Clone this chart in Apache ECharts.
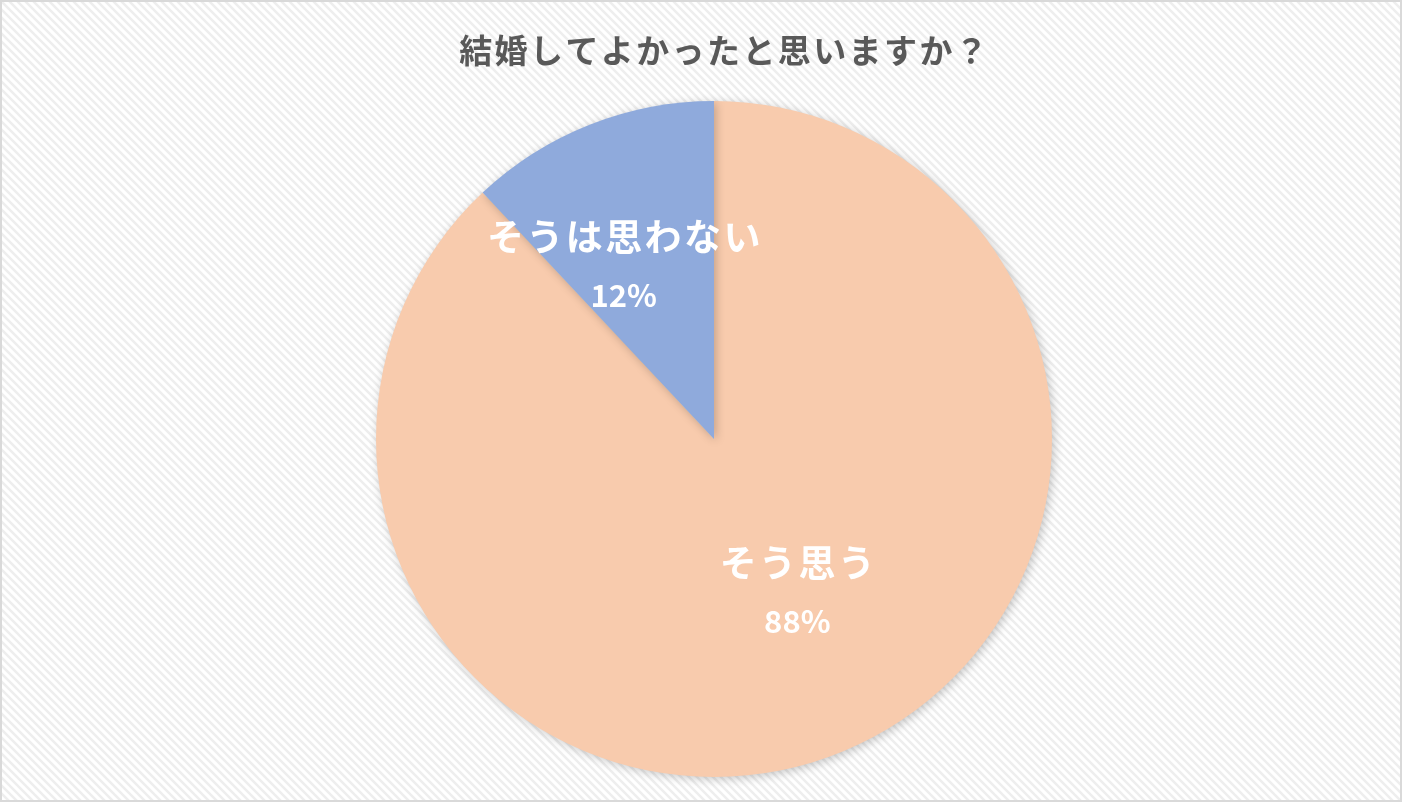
<!DOCTYPE html>
<html>
<head>
<meta charset="utf-8">
<script src="https://cdn.jsdelivr.net/npm/echarts@6/dist/echarts.min.js"></script>
<style>
    html, body { margin: 0; padding: 0; background: #fff; }
    #char1 { width: 1402px; height: 802px; box-sizing: border-box; border: 2px solid #d9d9d9; }
</style>
</head>
<body>
<div id="char1"></div>
<script>
var titleText = '結婚してよかったと思いますか？';
var names = ['そう思う', 'そうは思わない'];
var values = [88, 12];
var colors = ['#F8CBAD', '#8FAADC'];

// 斜線の背景
function hatch() {
    var c = document.createElement('canvas');
    c.width = 8;
    c.height = 8;
    var ctx = c.getContext('2d');
    ctx.fillStyle = '#ffffff';
    ctx.fillRect(0, 0, 8, 8);
    ctx.strokeStyle = '#eeeeee';
    ctx.lineWidth = 2.5;
    ctx.beginPath();
    ctx.moveTo(-2, -2); ctx.lineTo(10, 10);
    ctx.moveTo(-6, 2); ctx.lineTo(6, 14);
    ctx.moveTo(2, -6); ctx.lineTo(14, 6);
    ctx.stroke();
    return c;
}

// 字間をあけるため1文字ずつrichで包む
function spaced(str, key) {
    var out = '';
    for (var i = 0; i < str.length; i++) {
        out += '{' + key + '|' + str.charAt(i) + '}';
    }
    return out;
}

var myChart = echarts.init(document.getElementById('char1'));
var tempdata = [];
for (var i = 0; i < values.length; i++) {
    tempdata.push({ value: values[i], name: names[i], itemStyle: { color: colors[i] } });
}
var option = {
    backgroundColor: { image: hatch(), repeat: 'repeat' },
    title: {
        text: spaced(titleText, 't'),
        left: 451,
        top: 27,
        textStyle: {
            rich: {
                t: {
                    fontFamily: 'Noto Sans CJK JP',
                    fontSize: 33,
                    fontWeight: 'bold',
                    color: '#595959',
                    padding: [0, 1.2]
                }
            }
        }
    },
    series: [
        {
            type: 'pie',
            center: [712, 437],
            radius: 338,
            startAngle: 90,
            clockwise: true,
            silent: true,
            itemStyle: {
                borderWidth: 0,
                shadowBlur: 10,
                shadowOffsetX: 2,
                shadowOffsetY: 2,
                shadowColor: 'rgba(0,0,0,0.22)'
            },
            label: {
                show: true,
                position: 'inside',
                formatter: function (p) { return spaced(p.name, 'n') + '\n{p|' + p.value + '%}'; },
                rich: {
                    n: { fontFamily: 'Noto Sans CJK JP', fontSize: 37, fontWeight: 'bold', color: '#fff', lineHeight: 58, padding: [0, 1.2] },
                    p: { fontFamily: 'Noto Sans CJK JP', fontSize: 31, fontWeight: 'bold', color: '#fff', lineHeight: 58 }
                }
            },
            labelLine: { show: false },
            labelLayout: function (p) {
                if (p.dataIndex === 1) {
                    return { dx: -27, dy: -13 };
                }
                return { dx: 20, dy: -7 };
            },
            data: tempdata
        }
    ]
};
myChart.setOption(option);
window.addEventListener('resize', function () { myChart.resize(); })
</script>
</body>
</html>
